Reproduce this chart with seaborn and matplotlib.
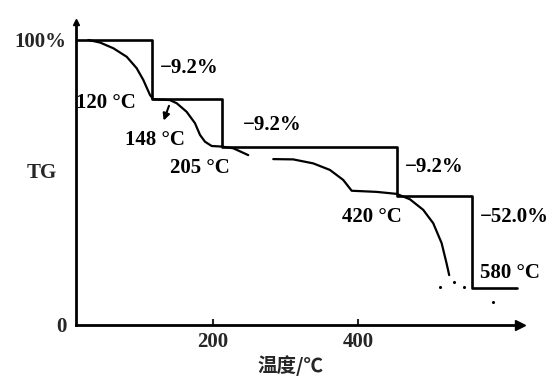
import matplotlib
matplotlib.use("Agg")
import matplotlib.pyplot as plt
import seaborn as sns
import pandas as pd

# ---- data ----
step_x = [11, 116, 116, 212, 212, 454, 454, 557, 557, 619]
step_y = [100, 100, 79.3, 79.3, 62.5, 62.5, 45.3, 45.3, 13.0, 13.0]

curve1_x = [27.9, 44.1, 62.4, 80.9, 94.6, 103.7, 113.0, 117.5, 140.5, 149.8,
            163.5, 175.0, 181.9, 188.8, 198.0, 211.8, 227.8, 248.4]
curve1_y = [100.0, 99.1, 97.1, 94.1, 90.1, 86.0, 80.7, 79.2, 78.9, 77.8,
            74.8, 70.8, 66.7, 64.3, 62.8, 62.6, 62.0, 59.6]

curve2_x = [282.9, 310.4, 338.0, 361.0, 379.3, 391.0, 425.4, 453.0, 471.3,
            489.6, 503.4, 515.0, 521.8, 525.4]
curve2_y = [58.2, 58.1, 56.7, 54.4, 50.9, 47.1, 46.7, 46.0, 44.1,
            40.4, 35.7, 28.7, 21.6, 17.5]

dots_x = [531.4, 545.2, 513.0, 585.4]
dots_y = [15.0, 13.5, 13.5, 8.2]

x_ticks = [200, 400]
y_ticks = [0, 100]
y_tick_labels = ["0", "100%"]

labels = ["\u22129.2%", "120 \u00b0C", "148 \u00b0C", "205 \u00b0C", "\u22129.2%",
          "\u22129.2%", "420 \u00b0C", "\u221252.0%", "580 \u00b0C"]
label_x = [126.8, 11.0, 78.5, 140.5, 241.0, 464.0, 377.5, 568.0, 568.0]
label_y = [90.2, 77.9, 64.9, 55.1, 70.2, 55.4, 37.9, 37.9, 18.2]

# ---- figure ----
sns.set_theme(style="white")
plt.rcParams["font.family"] = ["Liberation Serif", "DejaVu Serif"]
plt.rcParams["font.weight"] = "bold"

fig = plt.figure(figsize=(5.6, 3.79), dpi=100)
ax = fig.add_axes([76 / 560, 1 - 325 / 379, 444 / 560, 303 / 379])

sns.lineplot(x=step_x, y=step_y, sort=False, estimator=None, color="black",
             linewidth=1.9, ax=ax)
sns.lineplot(x=curve1_x, y=curve1_y, sort=False, estimator=None, color="black",
             linewidth=1.6, ax=ax)
sns.lineplot(x=curve2_x, y=curve2_y, sort=False, estimator=None, color="black",
             linewidth=1.6, ax=ax)
sns.scatterplot(x=dots_x, y=dots_y, color="black", s=5, linewidth=0, ax=ax)

ax.set_xlim(11, 623)
ax.set_ylim(0, 106.3)

for s in ["top", "right"]:
    ax.spines[s].set_visible(False)
for s in ["left", "bottom"]:
    ax.spines[s].set_linewidth(2.0)
    ax.spines[s].set_color("black")

# arrow heads on axes
ax.plot(1, 0, marker=">", color="black", markersize=7, transform=ax.transAxes, clip_on=False)
ax.plot(0, 1, marker="^", color="black", markersize=5, transform=ax.transAxes, clip_on=False)

ax.set_xticks(x_ticks)
ax.set_xticklabels([str(v) for v in x_ticks])
ax.tick_params(axis="x", direction="in", length=4, width=1.5, pad=5, labelsize=15,
               bottom=True)
ax.set_yticks(y_ticks)
ax.set_yticklabels(y_tick_labels)
ax.tick_params(axis="y", length=0, pad=7, labelsize=15)
for t in ax.get_xticklabels() + ax.get_yticklabels():
    t.set_fontweight("bold")

ax.set_ylabel("TG", rotation=0, fontsize=15, fontweight="bold")
ax.yaxis.set_label_coords(-0.077, 0.469)
ax.set_xlabel("\u6e29\u5ea6/\u2103", fontsize=14, fontweight="bold",
              family=["Noto Sans CJK SC", "DejaVu Sans"])
ax.xaxis.label.set_va("center")
ax.xaxis.set_label_coords(0.482, -0.135)

for t, x, y in zip(labels, label_x, label_y):
    ax.text(x, y, t, ha="left", va="center", fontsize=15, fontweight="bold",
            color="black")

ax.annotate("", xy=(130.5, 70.8), xytext=(140.5, 77.8),
            arrowprops=dict(arrowstyle="-|>", color="black", lw=1.5,
                            mutation_scale=10))

fig.savefig("out.png", dpi=100)
